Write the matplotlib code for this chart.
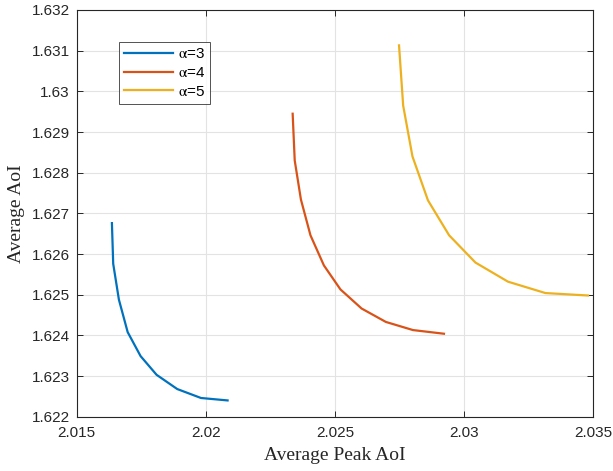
import matplotlib
matplotlib.use("Agg")
import matplotlib.pyplot as plt

# --- Data ---
peak_a3 = [2.01636, 2.01641, 2.01663, 2.01697, 2.01747, 2.01809, 2.01889, 2.01981, 2.02084]
avg_a3 = [1.62676, 1.62576, 1.62488, 1.62408, 1.62349, 1.62303, 1.62268, 1.62246, 1.62240]

peak_a4 = [2.02336, 2.02344, 2.02368, 2.02405, 2.02457, 2.02521, 2.02603, 2.02697, 2.02802, 2.02922]
avg_a4 = [1.62945, 1.62830, 1.62734, 1.62646, 1.62572, 1.62513, 1.62466, 1.62433, 1.62413, 1.62404]

peak_a5 = [2.02748, 2.02764, 2.02800, 2.02860, 2.02942, 2.03044, 2.03170, 2.03315, 2.03480]
avg_a5 = [1.63113, 1.62965, 1.62840, 1.62732, 1.62646, 1.62579, 1.62532, 1.62504, 1.62498]

xticks = [2.015, 2.02, 2.025, 2.03, 2.035]
xticklabels = ["2.015", "2.02", "2.025", "2.03", "2.035"]
yticks = [1.622, 1.623, 1.624, 1.625, 1.626, 1.627, 1.628, 1.629, 1.63, 1.631, 1.632]
yticklabels = ["1.622", "1.623", "1.624", "1.625", "1.626", "1.627", "1.628", "1.629", "1.63", "1.631", "1.632"]

plt.rcParams['font.family'] = ['Liberation Sans', 'DejaVu Sans']
plt.rcParams['mathtext.fontset'] = 'stix'

fig = plt.figure(figsize=(6.13, 4.71), dpi=100)
ax = fig.add_axes([76.8 / 613, (471 - 416.7) / 471, (593.2 - 76.8) / 613, (416.7 - 10) / 471])

ax.plot(peak_a3, avg_a3, color='#0072BD', lw=1.6, label=r'$\mathrm{\alpha}$=3')
ax.plot(peak_a4, avg_a4, color='#D95319', lw=1.6, label=r'$\mathrm{\alpha}$=4')
ax.plot(peak_a5, avg_a5, color='#EDB120', lw=1.6, label=r'$\mathrm{\alpha}$=5')

ax.set_xlim(2.015, 2.035)
ax.set_ylim(1.622, 1.632)
ax.set_xticks(xticks)
ax.set_xticklabels(xticklabels)
ax.set_yticks(yticks)
ax.set_yticklabels(yticklabels)

# MATLAB-like box and grid
ax.grid(True, color='#e3e3e3', lw=0.8)
ax.set_axisbelow(True)
ax.tick_params(direction='in', length=4, width=0.7, colors='#262626',
               labelsize=11, top=True, right=True, labeltop=False, labelright=False)
ax.tick_params(axis='x', pad=7)
ax.tick_params(axis='y', pad=5)
for s in ax.spines.values():
    s.set_color('#262626')
    s.set_linewidth(0.8)

ax.set_xlabel('Average Peak AoI', family='Liberation Serif', fontsize=14, color='#262626', labelpad=5)
ax.set_ylabel('Average AoI', family='Liberation Serif', fontsize=14, color='#262626', labelpad=5)

leg = ax.legend(loc='upper left', bbox_to_anchor=(119 / 613, 1 - 42 / 471),
                bbox_transform=fig.transFigure, fontsize=11, frameon=True,
                fancybox=False, handlelength=3.2, handletextpad=0.3,
                labelspacing=0.3, borderpad=0.35, borderaxespad=0)
leg.get_frame().set_edgecolor('#262626')
leg.get_frame().set_linewidth(0.7)

fig.savefig('out.png', dpi=100)
